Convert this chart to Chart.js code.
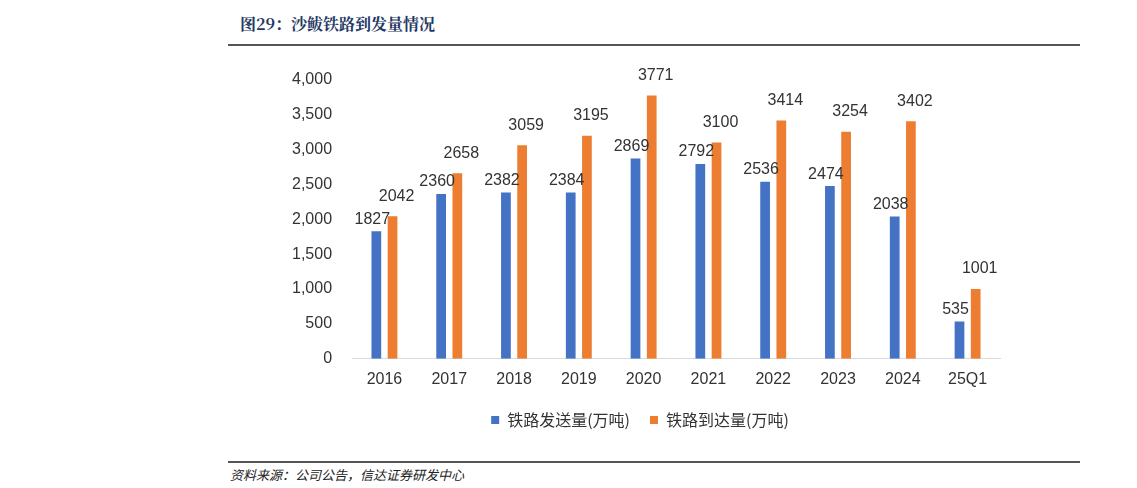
<!DOCTYPE html>
<html><head><meta charset="utf-8">
<script src="https://cdn.jsdelivr.net/npm/chart.js@4"></script>
<style>
body{margin:0;width:1137px;height:488px;background:#fff;position:relative;font-family:"Noto Sans CJK SC",sans-serif;overflow:hidden}
#t{position:absolute;left:240px;top:12px;font-size:16px;font-weight:bold;color:#1f3864;font-family:"Noto Serif CJK SC","Noto Sans CJK SC",serif}
.ln{position:absolute;left:228px;width:852px;height:2px;background:#555}
#s{position:absolute;left:230px;top:465px;font-size:13px;color:#222;font-style:italic}
#w{position:absolute;left:280px;top:58px;width:760px;height:380px}
</style></head><body>
<div id="t">图29：沙鲅铁路到发量情况</div>
<div class="ln" style="top:44px"></div>
<div id="w"><canvas id="c"></canvas></div>
<div class="ln" style="top:461px"></div>
<div id="s">资料来源：公司公告，信达证券研发中心</div>
<script>
const categories=["2016","2017","2018","2019","2020","2021","2022","2023","2024","25Q1"];
const dispatched=[1827,2360,2382,2384,2869,2792,2536,2474,2038,535];
const arrived=[2042,2658,3059,3195,3771,3100,3414,3254,3402,1001];
const yTicks=[0,500,1000,1500,2000,2500,3000,3500,4000];
const labelPlugin={id:'lbl',afterDatasetsDraw(ch){const c=ch.ctx;c.save();c.font='16px "Liberation Sans",Arial';c.fillStyle='#333';c.textAlign='center';c.textBaseline='bottom';
ch.data.datasets.forEach((d,i)=>{ch.getDatasetMeta(i).data.forEach((b,j)=>{c.fillText(d.data[j],b.x+(i==0?-4:4),b.y-(i==0?4:12));});});c.restore();}};
new Chart(document.getElementById('c'),{type:'bar',
data:{labels:categories,datasets:[
{label:'铁路发送量(万吨)',data:dispatched,backgroundColor:'#4472c4',barPercentage:0.6,categoryPercentage:0.5},
{label:'铁路到达量(万吨)',data:arrived,backgroundColor:'#ed7d31',barPercentage:0.6,categoryPercentage:0.5}]},
options:{responsive:true,maintainAspectRatio:false,animation:false,
layout:{padding:{left:0,right:40,top:10}},
plugins:{legend:{position:'bottom',labels:{boxWidth:8,boxHeight:8,font:{size:16,family:'"Noto Sans CJK SC"'},color:'#333',padding:20}},tooltip:{enabled:false}},
scales:{x:{grid:{display:false},border:{color:'#d9d9d9'},ticks:{font:{size:16,family:'"Liberation Sans",Arial'},color:'#333'}},
y:{min:0,max:4000,afterBuildTicks(a){a.ticks=yTicks.map(v=>({value:v}));},grid:{display:false},border:{display:false},ticks:{font:{size:16,family:'"Liberation Sans",Arial'},color:'#333',padding:12}}}},
plugins:[labelPlugin]});
</script></body></html>
